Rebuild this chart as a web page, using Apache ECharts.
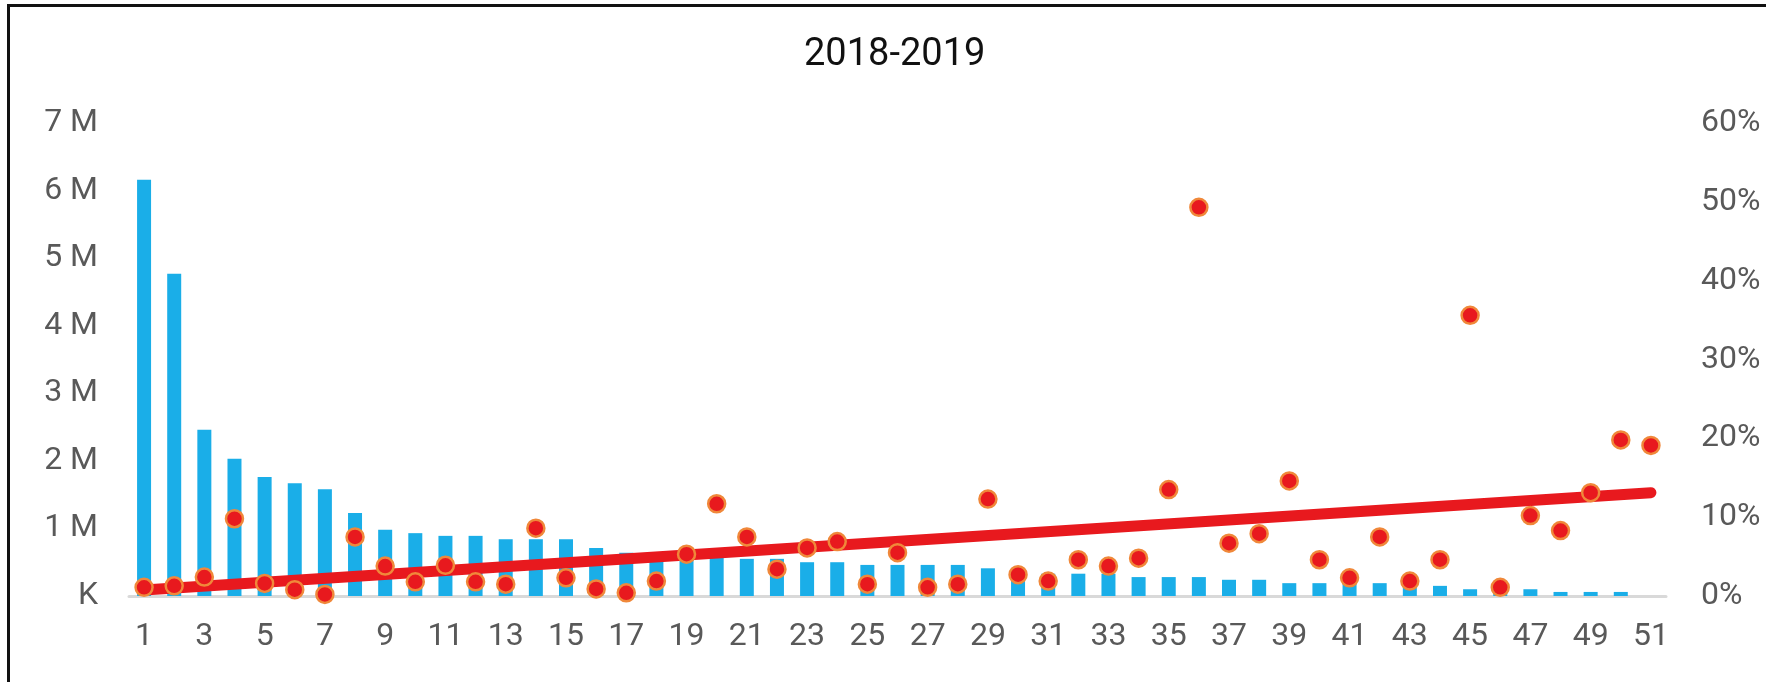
<!DOCTYPE html>
<html>
<head>
<meta charset="utf-8">
<script src="https://cdn.jsdelivr.net/npm/echarts@6/dist/echarts.min.js"></script>
<style>
  html, body { margin: 0; padding: 0; background: #fff; overflow: hidden; }
  #main { position: absolute; left: 0; top: 0; width: 1766px; height: 682px; }
  #frame {
    position: absolute; left: 7px; top: 4px; width: 1800px; height: 720px;
    border: 3px solid #111; pointer-events: none;
  }
</style>
</head>
<body>
<div id="main"></div>
<div id="frame"></div>
<script>
// week numbers 1..51
var weeks = [];
for (var w = 1; w <= 51; w++) weeks.push(String(w));

// bars, left axis (millions)
var volumeM = [6.16, 4.77, 2.46, 2.03, 1.76, 1.67, 1.58, 1.23, 0.98, 0.93,
               0.89, 0.89, 0.84, 0.84, 0.84, 0.71, 0.64, 0.62, 0.60, 0.57,
               0.55, 0.55, 0.50, 0.50, 0.46, 0.46, 0.46, 0.46, 0.41, 0.37,
               0.33, 0.33, 0.33, 0.28, 0.28, 0.28, 0.24, 0.24, 0.19, 0.19,
               0.19, 0.19, 0.15, 0.15, 0.10, 0.08, 0.10, 0.06, 0.06, 0.06,
               0];

// dots, right axis (%)
var ratePct = [1.1, 1.3, 2.4, 9.8, 1.6, 0.8, 0.2, 7.5, 3.8, 1.8,
               3.9, 1.8, 1.5, 8.6, 2.3, 0.9, 0.4, 1.9, 5.3, 11.7,
               7.5, 3.4, 6.1, 6.9, 1.5, 5.5, 1.1, 1.5, 12.3, 2.7,
               1.9, 4.6, 3.8, 4.8, 13.5, 49.3, 6.7, 7.9, 14.6, 4.6,
               2.3, 7.5, 1.9, 4.6, 35.6, 1.1, 10.2, 8.3, 13.1, 19.8,
               19.1];

// trend line end points (%)
var trendStart = 0.76;
var trendEnd = 13.1;

var myChart = echarts.init(document.getElementById('main'));
var labelFont = { fontFamily: 'Roboto', fontSize: 32, color: '#595959' };

var option = {
  animation: false,
  title: {
    text: '2018-2019',
    left: 799,
    top: 31,
    textStyle: { fontFamily: 'Roboto', fontSize: 38, fontWeight: 'normal', color: '#111' }
  },
  grid: { left: 129, right: 100, top: 123, bottom: 86 },
  xAxis: {
    type: 'category',
    data: weeks,
    axisTick: { show: false },
    axisLine: { lineStyle: { color: '#d9d9d9', width: 3 } },
    axisLabel: Object.assign({ interval: 1, margin: 25 }, labelFont)
  },
  yAxis: [
    {
      type: 'value',
      min: 0, max: 7, interval: 1,
      splitLine: { show: false },
      axisLine: { show: false },
      axisTick: { show: false },
      axisLabel: Object.assign({
        margin: 31,
        formatter: function (v) { return v === 0 ? 'K' : v + ' M'; }
      }, labelFont)
    },
    {
      type: 'value',
      min: 0, max: 60, interval: 10,
      splitLine: { show: false },
      axisLine: { show: false },
      axisTick: { show: false },
      axisLabel: Object.assign({
        margin: 35,
        formatter: '{value}%'
      }, labelFont)
    }
  ],
  series: [
    {
      type: 'bar',
      data: volumeM,
      barWidth: 14,
      itemStyle: { color: '#1aaee8' },
      z: 1
    },
    {
      type: 'line',
      yAxisIndex: 1,
      data: [['1', trendStart], ['51', trendEnd]],
      symbol: 'none',
      lineStyle: { color: '#e8191e', width: 11, cap: 'round' },
      z: 2
    },
    {
      type: 'scatter',
      yAxisIndex: 1,
      data: ratePct,
      symbolSize: 17,
      itemStyle: { color: '#e8191e', borderColor: '#f0883a', borderWidth: 2.5, opacity: 1 },
      z: 3
    }
  ]
};

option && myChart.setOption(option);
</script>
</body>
</html>
